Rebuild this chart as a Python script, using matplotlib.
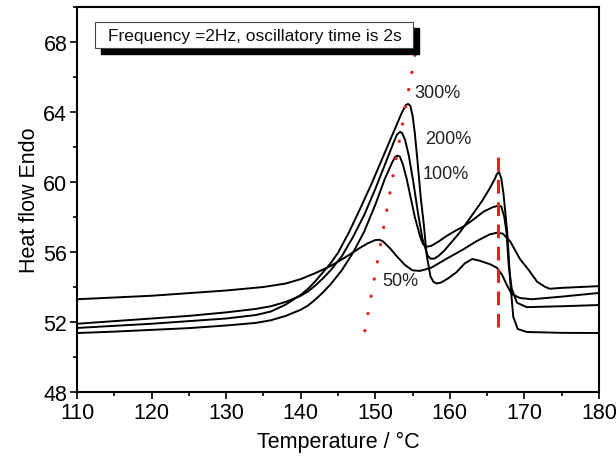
import matplotlib
matplotlib.use('Agg')
import matplotlib.pyplot as plt
from matplotlib.patches import Rectangle
from matplotlib.ticker import MultipleLocator

plt.rcParams['font.family'] = ['Liberation Sans', 'DejaVu Sans']

# curves (temperature in C, heat flow)
t_50 = [110, 115, 120, 125, 130, 135, 138, 140, 142, 144, 146, 147, 148, 149, 150, 150.5, 151, 152,
        153, 154, 155, 156, 157.5, 159.5, 161.8, 163.5, 165.3, 166.3, 167.1, 168.1, 169.4,
        170.7, 171.7, 172.8, 173.4, 175, 180]
hf_50 = [53.3, 53.4, 53.5, 53.65, 53.8, 54.0, 54.2, 54.45, 54.8, 55.2, 55.7, 55.98, 56.25, 56.5, 56.68, 56.7, 56.62, 56.2,
         55.7, 55.25, 54.95, 54.92, 55.1, 55.6, 56.15, 56.6, 57.0, 57.1, 57.05, 56.6, 55.6,
         54.9, 54.3, 54.0, 53.9, 53.95, 54.05]

t_100 = [110, 115, 120, 125, 130, 134, 136, 138, 140, 141, 142, 143, 144, 145.5, 147, 148.5, 150, 151.3,
         152.3, 152.7, 153.0, 153.3, 153.7, 154.2, 154.7, 155.3, 156.0, 156.4, 156.9, 157.5, 158.5,
         159.5, 160.7, 162, 163.3, 164.5, 165.7, 166.5, 166.9, 167.3, 167.6, 167.9, 168.3, 169,
         170.3, 175, 180]
hf_100 = [51.37, 51.45, 51.55, 51.65, 51.8, 51.95, 52.1, 52.35, 52.7, 52.95, 53.3, 53.7, 54.15, 54.95, 55.95, 57.15, 58.7, 60.2,
          61.15, 61.45, 61.5, 61.45, 61.0, 60.2, 59.2, 58.0, 56.9, 56.45, 56.3, 56.35, 56.6,
          56.9, 57.2, 57.5, 57.9, 58.3, 58.55, 58.65, 58.6, 58.0, 57.1, 55.2, 53.9, 53.1,
          52.85, 52.9, 52.97]

t_200 = [110, 115, 120, 125, 130, 134, 136, 138, 140, 141, 142, 143, 144, 145.5, 147, 148.5, 150, 151.3,
         152.4, 152.9, 153.3, 153.6, 154.0, 154.5, 155.1, 155.7, 156.3, 157.0, 157.4, 157.9, 158.5,
         159.3, 160.3, 161.3, 162.3, 163.3, 164.3, 165.3, 166.0, 166.3, 166.6, 166.9, 167.2, 167.7,
         168.1, 168.5, 169.1, 170.3, 175, 180]
hf_200 = [51.9, 52.05, 52.2, 52.35, 52.55, 52.75, 52.9, 53.15, 53.5, 53.75, 54.1, 54.5, 54.95, 55.75, 56.85, 58.1, 59.6, 61.0,
          62.2, 62.7, 62.86, 62.8, 62.4, 61.5, 60.0, 58.3, 56.8, 55.8, 55.62, 55.62, 55.78,
          56.1, 56.6, 57.1, 57.7, 58.3, 58.9, 59.6, 60.15, 60.45, 60.57, 60.2, 59.3, 57.1,
          54.3, 52.3, 51.6, 51.43, 51.38, 51.37]

t_300 = [110, 115, 120, 125, 130, 134, 136, 138, 140, 141, 142, 143, 144, 145, 146.5, 148, 149.5, 151,
         152.5, 153.6, 154.1, 154.4, 154.7, 155.0, 155.3, 155.7, 156.1, 156.5, 156.9, 157.4, 157.8,
         158.2, 158.8, 159.8, 160.9, 162, 163, 164, 165.4, 166.3, 167, 167.7, 168.3, 169.4,
         171, 175, 180]
hf_300 = [51.66, 51.78, 51.9, 52.05, 52.2, 52.4, 52.6, 53.0, 53.55, 53.9, 54.35, 54.85, 55.35, 55.95, 57.15, 58.5, 59.9, 61.4,
          62.9, 64.0, 64.4, 64.46, 64.35, 63.8, 62.8, 61.0, 59.1, 57.6, 55.8, 54.6, 54.3,
          54.2, 54.25, 54.5, 54.85, 55.35, 55.6, 55.5, 55.3, 55.1, 54.7, 54.06, 53.6, 53.37,
          53.3, 53.45, 53.66]

labels = ['300%', '200%', '100%', '50%']
label_t = [155.3, 156.7, 156.4, 150.9]
label_hf = [65.1, 62.5, 60.5, 54.4]

# red guide lines
dot_t = [148.6, 155.6]
dot_hf = [51.5, 67.9]
dash_t = [166.5, 166.5]
dash_hf = [51.7, 61.6]

fig = plt.figure(figsize=(6.16, 4.64), dpi=100)
ax = fig.add_axes([0.125, 0.153, 0.8474, 0.8298])

for t, hf in [(t_50, hf_50), (t_100, hf_100), (t_200, hf_200), (t_300, hf_300)]:
    ax.plot(t, hf, color='black', lw=1.4, solid_joinstyle='round')

ax.plot(dot_t, dot_hf, color='#e8231f', lw=2.4, linestyle=(0, (0.05, 5.2)), dash_capstyle='round')
ax.plot(dash_t, dash_hf, color='#e8231f', lw=2.2, linestyle=(0, (4.5, 2.8)))

for s, x, y in zip(labels, label_t, label_hf):
    ax.text(x, y, s, fontsize=13, va='center', ha='left', color='#222222')

# title box with shadow
ax.add_patch(Rectangle((0.046, 0.879), 0.609, 0.0675, transform=ax.transAxes,
                       facecolor='black', edgecolor='black', zorder=4))
ax.add_patch(Rectangle((0.0345, 0.8935), 0.609, 0.0675, transform=ax.transAxes,
                       facecolor='white', edgecolor='#444444', lw=0.8, zorder=5))
ax.text(0.0594, 0.927, 'Frequency =2Hz, oscillatory time is 2s', transform=ax.transAxes,
        fontsize=12.5, va='center', ha='left', color='#111111', zorder=6)

ax.set_xlim(110, 180)
ax.set_ylim(48, 70)
ax.set_xticks(range(110, 181, 10))
ax.set_yticks(range(48, 69, 4))
ax.xaxis.set_minor_locator(MultipleLocator(5))
ax.yaxis.set_minor_locator(MultipleLocator(2))
ax.tick_params(which='major', direction='out', length=5, width=1.2, labelsize=15.5, pad=2)
ax.tick_params(which='minor', direction='out', length=3, width=1.2)
for sp in ax.spines.values():
    sp.set_linewidth(1.5)

ax.set_xlabel('Temperature / °C', fontsize=15.5, labelpad=6)
ax.set_ylabel('Heat flow Endo', fontsize=15.5, labelpad=2)

fig.savefig('out.png', dpi=100)
